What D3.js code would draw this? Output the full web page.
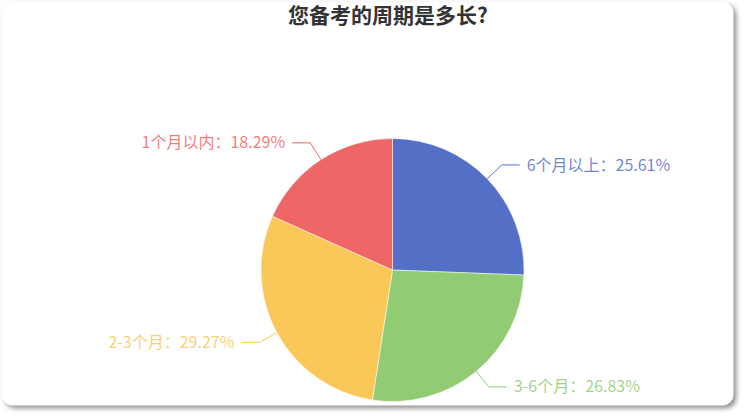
<!DOCTYPE html>
<html>
<head>
<meta charset="utf-8">
<script src="https://cdn.jsdelivr.net/npm/d3@7"></script>
<style>
body { margin: 0; background: #fff; }
svg { display: block; font-family: "Noto Sans CJK SC", "Noto Sans", sans-serif; }
</style>
</head>
<body>
<svg id="chart" width="748" height="420"></svg>
<script>
// data
var categories = ["6个月以上", "3-6个月", "2-3个月", "1个月以内"];
var percents = [25.61, 26.83, 29.27, 18.29];
var colors = ["#5470c6", "#91cc75", "#fac858", "#ee6666"];
var title = "您备考的周期是多长?";

var svg = d3.select("#chart");

// card with shadow
var defs = svg.append("defs");
var f = defs.append("filter").attr("id", "shadow")
    .attr("x", "-5%").attr("y", "-5%").attr("width", "110%").attr("height", "115%");
f.append("feDropShadow").attr("dx", 3).attr("dy", 3).attr("stdDeviation", 2.5)
    .attr("flood-color", "#000").attr("flood-opacity", 0.45);

svg.append("rect")
    .attr("x", 2).attr("y", 2)
    .attr("width", 731).attr("height", 403)
    .attr("rx", 10)
    .attr("fill", "#fff")
    .attr("stroke", "#eee")
    .attr("stroke-width", 0.5)
    .attr("filter", "url(#shadow)");

svg.append("text")
    .attr("x", 388).attr("y", 23)
    .attr("text-anchor", "middle")
    .attr("font-size", 21)
    .attr("font-weight", "bold")
    .attr("fill", "#333")
    .text(title);

var cx = 392.5, cy = 270, r = 131.5;
var data = categories.map((c, i) => ({name: c, value: percents[i], color: colors[i]}));

var pie = d3.pie().sort(null).value(d => d.value);
var arc = d3.arc().innerRadius(0).outerRadius(r);

var g = svg.append("g").attr("transform", `translate(${cx},${cy})`);
var arcs = pie(data);

g.selectAll("path.slice").data(arcs).enter().append("path")
    .attr("class", "slice")
    .attr("d", arc)
    .attr("fill", d => d.data.color)
    .attr("stroke", "#fff")
    .attr("stroke-width", 0.5);

var len1 = 20, len2 = 18, gap = 7;
arcs.forEach(function(d) {
    var a = (d.startAngle + d.endAngle) / 2;
    var p0 = [r * Math.sin(a), -r * Math.cos(a)];
    var p1 = [(r + len1) * Math.sin(a), -(r + len1) * Math.cos(a)];
    var right = Math.sin(a) >= 0;
    var p2 = [p1[0] + (right ? len2 : -len2), p1[1]];
    g.append("polyline")
        .attr("points", [p0, p1, p2].map(p => p.join(",")).join(" "))
        .attr("fill", "none")
        .attr("stroke", d.data.color)
        .attr("stroke-width", 1);
    g.append("text")
        .attr("x", p2[0] + (right ? gap : -gap))
        .attr("y", p2[1])
        .attr("dy", "0.35em")
        .attr("text-anchor", right ? "start" : "end")
        .attr("font-size", 16)
        .attr("fill", d.data.color)
        .attr("fill-opacity", 0.85)
        .text(d.data.name + "：" + d.data.value.toFixed(2) + "%");
});
</script>
</body>
</html>
